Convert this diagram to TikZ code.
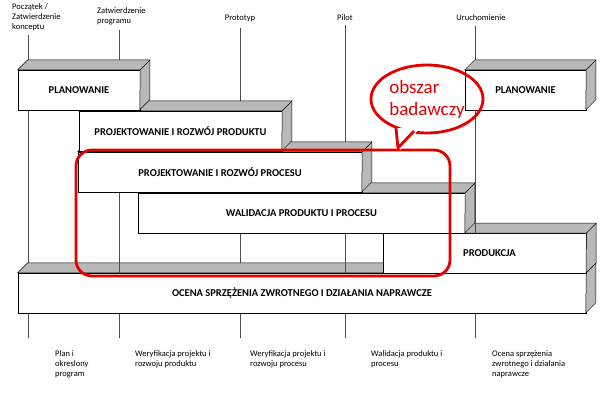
\documentclass[tikz,border=0pt]{standalone}
\usepackage{fontspec}
\usetikzlibrary{shapes.geometric}
\setmainfont{Carlito}
\begin{document}
\begin{tikzpicture}[x=1pt,y=-1pt,
  bx/.style={draw,fill=white,inner sep=0pt,font=\bfseries\fontsize{10.5}{12}\selectfont},
  ms/.style={font=\fontsize{8.5}{10}\selectfont,align=left,inner sep=0pt},
  vl/.style={draw=black!70,line width=0.5pt},
  face/.style={fill=black!28,draw=black,line width=0.5pt},
  redline/.style={draw=red!90!black,line width=2.8pt}]
\useasboundingbox (0,0) rectangle (602,404);
% milestone labels
\node[ms,anchor=north west] (l1) at (12,3) {Początek /\\Zatwierdzenie\\konceptu};
\node[ms,anchor=north west] (l2) at (97,7) {Zatwierdzenie\\programu};
\node[ms] (l3) at (240,18) {Prototyp};
\node[ms] (l4) at (345,18) {Pilot};
\node[ms] (l5) at (481,18) {Uruchomienie};
% bottom labels
\node[ms,anchor=north west] (b1) at (55,350) {Plan i\\okreslony\\program};
\node[ms,anchor=north west] (b2) at (135,350) {Weryfikacja projektu i\\rozwoju produktu};
\node[ms,anchor=north west] (b3) at (250,350) {Weryfikacja projektu i\\rozwoju procesu};
\node[ms,anchor=north west] (b4) at (371,350) {Walidacja produktu i\\procesu};
\node[ms,anchor=north west] (b5) at (492,350) {Ocena sprzężenia\\zwrotnego i działania\\naprawcze};
% vertical lines
\foreach \x/\a/\b in {28/35/338, 119/30/338, 240/28/338, 345/25/338, 475/26/338}
  \draw[vl] (\x,\a) -- (\x,\b);
% boxes (back to front)
\newcommand{\mybox}[6]{%
  \node[bx,minimum width=#3-#2,minimum height=#5-#4] (#1) at ({(#2+#3)/2},{(#4+#5)/2}) {#6};
  \draw[face] (#1.north west) -- ++(10,-10) -- ++(#3-#2,0) -- ++(0,#5-#4) -- ++(-10,10) -- (#1.north east) -- cycle;
  \draw[line width=0.5pt] (#1.north east) -- ++(10,-10);}
\mybox{ocena}{18}{586}{273}{313}{OCENA SPRZĘŻENIA ZWROTNEGO I DZIAŁANIA NAPRAWCZE}
\node[bx,minimum width=203,minimum height=40,anchor=north west,text width=183,align=left,inner xsep=0pt] (prod) at (383,233) {\hspace*{70pt}PRODUKCJA};
\draw[face] (prod.north west) -- ++(10,-10) -- ++(203,0) -- ++(0,40) -- ++(-10,10) -- (prod.north east) -- cycle;
\draw[line width=0.5pt] (prod.north east) -- ++(10,-10);
\mybox{wal}{138}{465}{193}{233}{WALIDACJA PRODUKTU I PROCESU}
\mybox{proc}{78}{362}{152}{192}{PROJEKTOWANIE I ROZWÓJ PROCESU}
\mybox{prodr}{79}{282}{111}{151}{PROJEKTOWANIE I ROZWÓJ PRODUKTU}
\mybox{plan}{18}{140}{70}{110}{PLANOWANIE}
\mybox{plan2}{465}{586}{70}{110}{PLANOWANIE}
% internal lines
\draw[vl] (119,193) -- (119,273);
\draw[vl] (345,233) -- (345,273);
\draw[vl] (475,110) -- (475,233);
% red annotation
\draw[redline,rounded corners=16] (76,150) rectangle (450,276);
\node[redline,ellipse,minimum width=112,minimum height=68,inner sep=0pt] (bub) at (427,99) {};
\node[text=red!90!black,font=\fontsize{19}{22}\selectfont,align=left] (bt) at (427,99) {obszar\\badawczy};
\fill[white] (395,128) -- (400,150) -- (420,128) -- cycle;
\draw[redline,line join=round] (396,128) -- (398,148) -- (414,131);
\end{tikzpicture}
\end{document}
